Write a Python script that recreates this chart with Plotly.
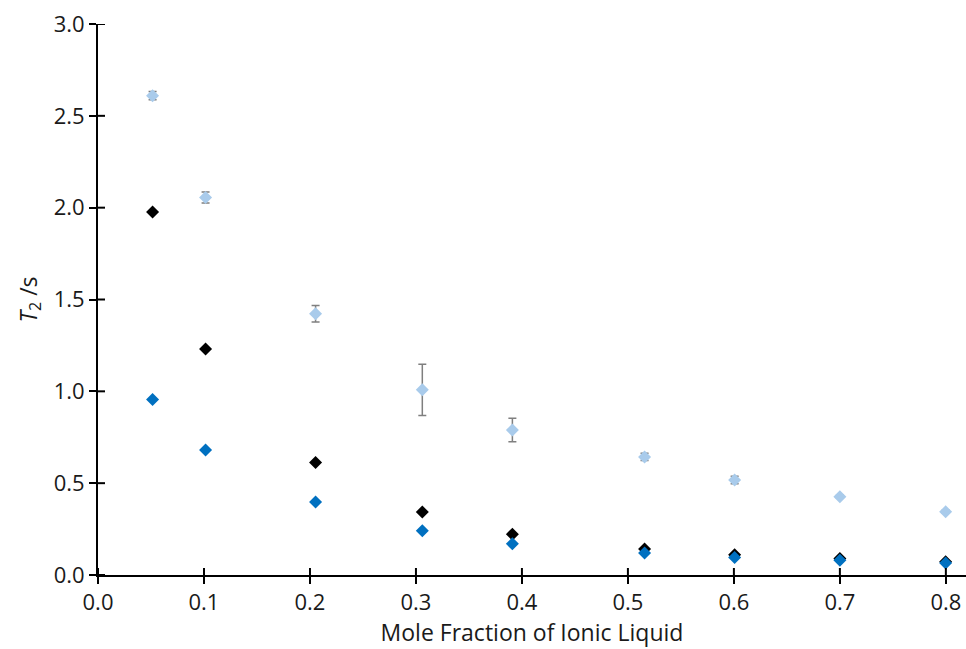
import plotly.graph_objects as go

x_vals = [0.0515, 0.1015, 0.2053, 0.306, 0.391, 0.5157, 0.6007, 0.700, 0.7998]
light_y = [2.61, 2.055, 1.422, 1.008, 0.789, 0.643, 0.517, 0.426, 0.344]
light_err = [0.022, 0.03, 0.045, 0.139, 0.064, 0.02, 0.02, 0.008, 0.008]
black_y = [1.977, 1.23, 0.612, 0.343, 0.222, 0.142, 0.11, 0.09, 0.072]
blue_y = [0.955, 0.68, 0.397, 0.241, 0.17, 0.12, 0.095, 0.08, 0.066]

x_ticks = [0.0, 0.1, 0.2, 0.3, 0.4, 0.5, 0.6, 0.7, 0.8]
y_ticks = [0.0, 0.5, 1.0, 1.5, 2.0, 2.5, 3.0]

x_range = [0, 0.819]
y_range = [0, 3.0]

W, H = 966, 649
M = dict(l=98, r=0, t=24, b=74)
plot_w = W - M["l"] - M["r"]
plot_h = H - M["t"] - M["b"]
TICK_LEN = 7
MARKER_SIZE = 10

fig = go.Figure()
fig.add_trace(go.Scatter(
    x=x_vals, y=light_y, mode="markers",
    marker=dict(symbol="diamond", size=MARKER_SIZE, color="#A9CBEB"),
    error_y=dict(type="data", array=light_err, color="#7F7F7F", thickness=1.5, width=4),
    showlegend=False))
fig.add_trace(go.Scatter(
    x=x_vals, y=black_y, mode="markers",
    marker=dict(symbol="diamond", size=MARKER_SIZE, color="#000000"),
    showlegend=False))
fig.add_trace(go.Scatter(
    x=x_vals, y=blue_y, mode="markers",
    marker=dict(symbol="diamond", size=MARKER_SIZE, color="#0070C0"),
    showlegend=False))

# inner halves of the crossing tick marks
shapes = []
for v in x_ticks:
    shapes.append(dict(type="line", xref="x", yref="paper", x0=v, x1=v,
                       y0=0, y1=TICK_LEN / plot_h, line=dict(color="black", width=2), layer="above"))
for v in y_ticks:
    shapes.append(dict(type="line", xref="paper", yref="y", x0=0, x1=TICK_LEN / plot_w,
                       y0=v, y1=v, line=dict(color="black", width=2), layer="above"))

tick_font = dict(family="Open Sans, sans-serif", size=22, color="#1a1a1a")
title_font = dict(family="Open Sans, sans-serif", size=23, color="#1a1a1a")

fig.update_layout(
    width=W, height=H,
    margin=M,
    plot_bgcolor="white", paper_bgcolor="white",
    font=tick_font,
    shapes=shapes,
    xaxis=dict(
        range=x_range, tickvals=x_ticks, ticktext=[f"{v:.1f}" for v in x_ticks],
        tickfont=tick_font,
        showgrid=False, zeroline=False,
        showline=True, linecolor="black", linewidth=2,
        ticks="outside", ticklen=TICK_LEN, tickwidth=2, tickcolor="black",
        title=dict(text="Mole Fraction of Ionic Liquid", font=title_font, standoff=3),
    ),
    yaxis=dict(
        range=y_range, tickvals=y_ticks, ticktext=[f"{v:.1f}" for v in y_ticks],
        tickfont=tick_font,
        showgrid=False, zeroline=False,
        showline=True, linecolor="black", linewidth=2,
        ticks="outside", ticklen=TICK_LEN, tickwidth=2, tickcolor="black",
        title=dict(text="<i>T</i><sub>2</sub> /s", font=title_font, standoff=10),
    ),
)

fig.write_html("out.html")
